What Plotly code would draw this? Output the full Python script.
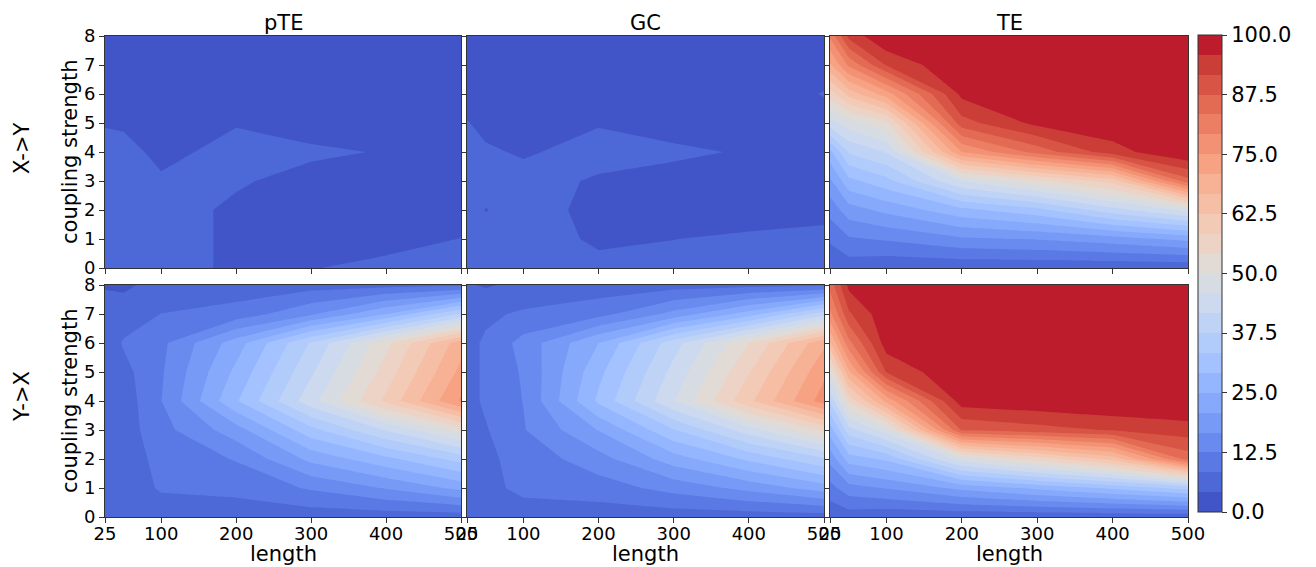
import numpy as np
import plotly.graph_objects as go

# ---------------- data ----------------
LENGTH = [25, 50, 100, 200, 300, 400, 500]
COUPLING = [0, 1, 2, 3, 4, 5, 6, 7, 8]
LENGTH_TICKS = [25, 100, 200, 300, 400, 500]
COUPLING_TICKS = [0, 1, 2, 3, 4, 5, 6, 7, 8]
CBAR_TICKS = [0.0, 12.5, 25.0, 37.5, 50.0, 62.5, 75.0, 87.5, 100.0]
COL_TITLES = ["pTE", "GC", "TE"]
ROW_TITLES = ["X->Y", "Y->X"]

# rows = coupling strength 0..8, columns = length
XY_PTE = [
    [5.0, 5.0, 5.0, 3.8, 4.1, 4.6, 5.0],
    [5.0, 5.0, 5.0, 3.8, 3.5, 3.6, 4.2],
    [5.0, 5.0, 5.0, 3.8, 3.4, 3.3, 3.4],
    [5.0, 5.0, 4.5, 4.4, 3.5, 3.3, 3.2],
    [5.0, 5.0, 3.5, 5.0, 4.5, 4.05, 3.6],
    [4.0, 3.8, 3.0, 4.0, 3.3, 3.2, 3.1],
    [3.0, 2.8, 2.5, 2.5, 2.5, 2.5, 2.5],
    [2.5, 2.4, 2.2, 2.2, 2.2, 2.2, 2.2],
    [2.0, 2.0, 2.0, 2.0, 2.0, 2.0, 2.0],
]
XY_GC = [
    [5.0, 5.0, 5.0, 4.6, 4.7, 4.8, 5.0],
    [5.0, 5.0, 5.0, 3.9, 4.15, 4.4, 4.6],
    [5.0, 4.1, 5.0, 3.6, 3.5, 3.5, 3.7],
    [5.0, 5.0, 5.0, 3.9, 3.5, 3.4, 3.4],
    [5.0, 4.5, 3.9, 5.0, 4.5, 4.0, 3.6],
    [4.3, 3.5, 3.0, 4.0, 3.4, 3.3, 3.5],
    [3.0, 2.8, 2.5, 2.8, 3.0, 3.2, 4.25],
    [2.5, 2.4, 2.2, 2.3, 2.5, 2.5, 3.5],
    [2.0, 2.0, 2.0, 2.0, 2.0, 2.0, 2.0],
]
XY_TE = [
    [5, 6, 5, 5, 5, 5, 5],
    [9, 12, 13, 16, 17, 19, 22],
    [14, 19, 22, 28, 32, 40, 47],
    [20, 28, 32, 46, 53, 60, 86],
    [28, 38, 42, 75, 85, 94, 100],
    [44, 48, 53, 90, 97, 99, 100],
    [56, 64, 73, 97, 100, 100, 100],
    [70, 80, 92, 100, 100, 100, 100],
    [80, 93, 100, 100, 100, 100, 100],
]
YX_PTE = [
    [5.0, 5.5, 6.0, 6.0, 6.0, 6.0, 6.0],
    [5.5, 6.0, 8.8, 9.5, 13.0, 17.0, 22.0],
    [5.5, 6.3, 9.5, 12.8, 22.0, 28.0, 35.0],
    [5.5, 6.3, 11.0, 19.0, 32.0, 42.0, 52.0],
    [5.5, 6.0, 12.4, 28.7, 44.3, 59.3, 75.5],
    [5.5, 7.0, 12.0, 26.0, 41.0, 56.0, 72.0],
    [5.5, 8.8, 11.5, 23.0, 38.0, 53.0, 69.0],
    [5.0, 6.0, 8.4, 10.0, 16.0, 25.0, 38.0],
    [4.0, 3.5, 5.5, 6.0, 6.5, 7.0, 7.5],
]
YX_GC = [
    [5.5, 6.0, 6.0, 6.0, 6.0, 6.0, 6.0],
    [6.0, 7.0, 9.5, 10.5, 14.0, 18.0, 23.0],
    [6.5, 7.5, 9.8, 15.0, 23.0, 30.0, 37.0],
    [7.0, 8.0, 12.2, 21.0, 33.0, 44.0, 55.0],
    [7.0, 9.0, 12.6, 30.0, 45.7, 61.5, 77.0],
    [7.0, 9.0, 13.0, 28.0, 43.0, 58.0, 74.0],
    [7.0, 9.0, 14.0, 25.0, 40.0, 54.0, 70.0],
    [5.5, 7.5, 9.0, 11.0, 18.0, 27.0, 40.0],
    [4.5, 3.8, 5.0, 6.0, 6.5, 7.0, 7.5],
]
YX_TE = [
    [5, 6, 5, 5, 5, 5, 5],
    [11, 15, 17, 22, 26, 30, 35],
    [18, 27, 30, 48, 56, 64, 85],
    [27, 40, 48, 88, 90, 92, 94],
    [38, 55, 72, 98, 99, 100, 100],
    [50, 70, 92, 100, 100, 100, 100],
    [66, 82, 98, 100, 100, 100, 100],
    [78, 91, 99, 100, 100, 100, 100],
    [85, 97, 100, 100, 100, 100, 100],
]

# ---------------- style: coolwarm colormap ----------------
_CW = np.array([
    [0.2298057, 0.298717966, 0.753683153], [0.26623388, 0.353094838, 0.801466763],
    [0.30386891, 0.406535296, 0.84495867], [0.342804478, 0.458757618, 0.883725899],
    [0.38301334, 0.50941904, 0.917387822], [0.424369608, 0.558148092, 0.945619588],
    [0.46666708, 0.604562568, 0.968154911], [0.509635204, 0.648280772, 0.98478814],
    [0.552953156, 0.688929332, 0.995375608], [0.596262162, 0.726149107, 0.999836203],
    [0.639176211, 0.759599947, 0.998151185], [0.681291281, 0.788964712, 0.990363227],
    [0.722193294, 0.813952739, 0.976574709], [0.761464949, 0.834302879, 0.956945269],
    [0.798691636, 0.849786142, 0.931688648], [0.833466556, 0.860207984, 0.901068838],
    [0.865395197, 0.86541021, 0.865395561], [0.897787179, 0.848937047, 0.820880546],
    [0.924127593, 0.827384882, 0.774508472], [0.944468518, 0.800927443, 0.726736146],
    [0.958852946, 0.769767752, 0.678007945], [0.96732803, 0.734132809, 0.628751763],
    [0.969954137, 0.694266682, 0.579375448], [0.966811177, 0.650421156, 0.530263762],
    [0.958003065, 0.602842431, 0.481775914], [0.943660866, 0.551750968, 0.434243684],
    [0.923944917, 0.49730856, 0.387970225], [0.89904617, 0.439559467, 0.343229596],
    [0.869186849, 0.378313092, 0.300267182], [0.834620542, 0.312874446, 0.259301199],
    [0.795631745, 0.24128379, 0.220525627], [0.752534934, 0.157246067, 0.184115123],
    [0.705673158, 0.01555616, 0.150232812],
])


def coolwarm(t):
    pos = np.linspace(0, 1, len(_CW))
    r, g, b = (np.interp(t, pos, _CW[:, i]) for i in range(3))
    return "rgb(%d,%d,%d)" % (round(r * 255), round(g * 255), round(b * 255))


NB = 24
CS = 100.0 / NB
# stepped colorscale for the contour fills (plotly evaluates band k at (k+1)/(NB+1))
cscale = []
for k in range(NB):
    c = coolwarm((k + 0.5) / NB)
    lo = 0.0 if k == 0 else (k + 0.5) / (NB + 1)
    hi = 1.0 if k == NB - 1 else (k + 1.5) / (NB + 1)
    cscale.append([lo, c])
    cscale.append([hi, c])
# stepped colorscale for the colour bar spanning exactly 0..100
bscale = []
for k in range(NB):
    c = coolwarm((k + 0.5) / NB)
    bscale.append([k / NB, c])
    bscale.append([(k + 1) / NB, c])

W, H = 1316, 567
XD = [(105, 461), (467, 824), (830, 1188)]
YD = [(36, 268), (285, 517)]
FONT = "DejaVu Sans"
AX = "#333333"

fig = go.Figure()
panels = [[XY_PTE, XY_GC, XY_TE], [YX_PTE, YX_GC, YX_TE]]
idx = 0
for r in range(2):
    for c in range(3):
        idx += 1
        sfx = "" if idx == 1 else str(idx)
        fig.add_trace(go.Contour(
            x=LENGTH, y=COUPLING, z=panels[r][c],
            xaxis="x" + sfx, yaxis="y" + sfx,
            autocontour=False,
            contours=dict(start=0, end=100, size=CS, coloring="fill", showlines=False),
            line=dict(width=0, smoothing=0),
            colorscale=cscale,
            showscale=False,
            hoverinfo="skip",
        ))
        x0, x1 = XD[c]
        y0, y1 = YD[r]
        fig.layout["xaxis" + sfx] = dict(
            domain=[x0 / W, x1 / W], range=[25, 500], anchor="y" + sfx,
            tickmode="array", tickvals=LENGTH_TICKS,
            ticks="outside", ticklen=5, tickcolor=AX, automargin=False,
            ticklabelstandoff=-5,
            showline=True, mirror=True, linecolor=AX, linewidth=1,
            showgrid=False, zeroline=False,
            showticklabels=(r == 1),
            tickfont=dict(family=FONT, size=18, color="black"),
        )
        fig.layout["yaxis" + sfx] = dict(
            domain=[1 - y1 / H, 1 - y0 / H], range=[0, 8], anchor="x" + sfx,
            tickmode="array", tickvals=COUPLING_TICKS,
            ticks="outside", ticklen=5, tickcolor=AX, automargin=False,
            showline=True, mirror=True, linecolor=AX, linewidth=1,
            showgrid=False, zeroline=False,
            showticklabels=(c == 0),
            tickfont=dict(family=FONT, size=18, color="black"),
        )

# colour bar (exactly 0..100, 24 discrete bands)
fig.add_trace(go.Scatter(
    x=[None], y=[None], mode="markers", xaxis="x6", yaxis="y6",
    hoverinfo="skip", showlegend=False,
    marker=dict(
        color=[0], cmin=0, cmax=100, colorscale=bscale, showscale=True,
        colorbar=dict(
            x=1198 / W, xanchor="left", xpad=0, ypad=0,
            y=1 - (35 + 512) / 2 / H, yanchor="middle",
            len=(512 - 35) / H, lenmode="fraction",
            thickness=24, thicknessmode="pixels",
            outlinewidth=1, outlinecolor=AX,
            tickmode="array", tickvals=CBAR_TICKS,
            ticktext=["%.1f" % v for v in CBAR_TICKS],
            ticks="outside", ticklen=5, tickcolor=AX,
            tickfont=dict(family=FONT, size=21, color="black"),
        ),
    ),
))

ann = []
for c in range(3):
    xc = (XD[c][0] + XD[c][1]) / 2 / W
    ann.append(dict(text=COL_TITLES[c], x=xc, y=1 - 23 / H, xref="paper", yref="paper",
                    showarrow=False, xanchor="center", yanchor="middle",
                    font=dict(family=FONT, size=21, color="black")))
    ann.append(dict(text="length", x=xc, y=1 - 554 / H, xref="paper", yref="paper",
                    showarrow=False, xanchor="center", yanchor="middle",
                    font=dict(family=FONT, size=21, color="black")))
for r in range(2):
    yc = 1 - (YD[r][0] + YD[r][1]) / 2 / H
    ann.append(dict(text="coupling strength", x=70 / W, y=yc, xref="paper", yref="paper",
                    showarrow=False, xanchor="center", yanchor="middle", textangle=-90,
                    font=dict(family=FONT, size=21, color="black")))
    ann.append(dict(text=ROW_TITLES[r], x=22 / W, y=yc + 4 / H, xref="paper", yref="paper",
                    showarrow=False, xanchor="center", yanchor="middle", textangle=-90,
                    font=dict(family=FONT, size=21, color="black")))

fig.update_layout(
    width=W, height=H, margin=dict(l=0, r=0, t=0, b=0, autoexpand=False),
    paper_bgcolor="white", plot_bgcolor="white",
    annotations=ann, showlegend=False,
    font=dict(family=FONT, size=18, color="black"),
)
fig.write_html(
    "out.html",
    config={"displayModeBar": False},
    post_script="document.body.style.margin='0px';document.body.style.padding='0px';",
)
